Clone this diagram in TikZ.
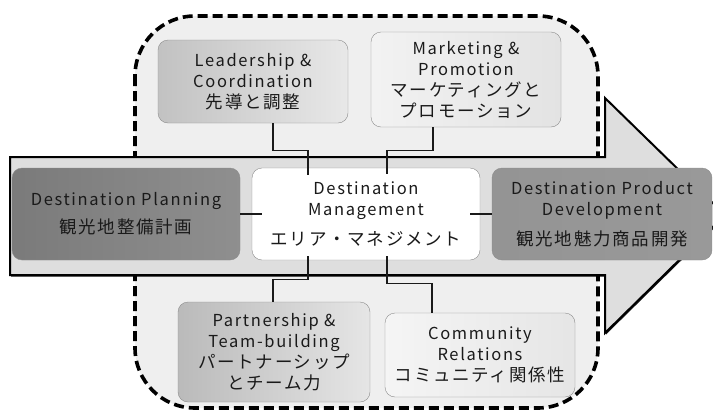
\documentclass[tikz,border=0pt]{standalone}
\usepackage{fontspec}
\setmainfont{Noto Sans CJK JP}[LetterSpace=10]
\usetikzlibrary{calc,shadows}

\definecolor{region}{HTML}{EFEFEF}
\definecolor{shaft}{HTML}{DEDEDE}
\definecolor{ink}{HTML}{1A1A1A}

\newcommand\entext{\fontsize{16.5}{21}\selectfont}
\newcommand\jptext{\fontsize{17.5}{21}\selectfont}

\tikzset{
  box/.style={draw=black!45, rounded corners=10pt, align=center, text=ink,
    inner sep=2pt, font=\entext},
  link/.style={line width=1.4pt, ink},
}

\begin{document}
\begin{tikzpicture}[x=1pt, y=-1pt]
  \clip (0,0) rectangle (713,410);

  % dashed frame round the whole management area
  \draw[fill=region, line width=3.6pt, dash pattern=on 10pt off 5pt, rounded corners=60pt]
    (135,16) rectangle (598,408);

  % big arrow: shaft and head
  \draw[fill=shaft, line width=2pt, line join=miter,
        drop shadow={shadow xshift=1pt, shadow yshift=-1.5pt, opacity=0.9, fill=black}]
    (10,157) -- (605,157) -- (605,98) -- (725,215) -- (605,333) -- (605,275) -- (10,275) -- cycle;

  % the five boxes round the centre
  \node[box, minimum width=190, minimum height=83, left color=black!24, right color=black!9]
    (lead) at (253,81.5) {Leadership \&\\Coordination\\{\jptext 先導と調整}};
  \node[box, minimum width=190, minimum height=95, left color=black!5, right color=black!11]
    (market) at (466,79.5) {Marketing \&\\Promotion\\{\jptext マーケティングと}\\{\jptext プロモーション}};
  \node[box, minimum width=192, minimum height=100, left color=black!27, right color=black!10]
    (partner) at (274,352) {Partnership \&\\Team-building\\{\jptext パートナーシップ}\\{\jptext とチーム力}};
  \node[box, minimum width=190, minimum height=84, left color=black!4, right color=black!10]
    (comm) at (480,355) {Community\\Relations\\{\jptext コミュニティ関係性}};

  % the three boxes along the arrow
  \node[box, minimum width=228, minimum height=92, left color=black!52, right color=black!44]
    (plan) at (126,214) {Destination Planning\\[7pt]{\jptext 観光地整備計画}};
  \node[box, minimum width=228, minimum height=92, fill=white]
    (mgmt) at (366,214) {Destination\\Management\\[9pt]{\jptext エリア・マネジメント}};
  \node[box, minimum width=220, minimum height=92, left color=black!42, middle color=black!26, right color=black!40]
    (prod) at (602,214) {Destination Product\\Development\\[9pt]{\jptext 観光地魅力商品開発}};

  % connectors
  \draw[link] ($(lead.south)+(20,0)$) -- ++(0,27) -| ($(mgmt.north)+(-58,7)$);
  \draw[link] ($(market.south)+(-33,0)$) -- ++(0,23) -| ($(mgmt.north)+(21,6)$);
  \draw[link] ($(mgmt.south)+(-58,-4)$) -- ++(0,23) -| ($(partner.north)+(-1,0)$);
  \draw[link] ($(mgmt.south)+(21,-4)$) -- ++(0,27) -| ($(comm.north)+(-48,0)$);
  \draw[link] (plan.east) -- ($(mgmt.west)+(10,0)$);
  \draw[link] ($(mgmt.east)+(-10,0)$) -- (prod.west);
\end{tikzpicture}
\end{document}
